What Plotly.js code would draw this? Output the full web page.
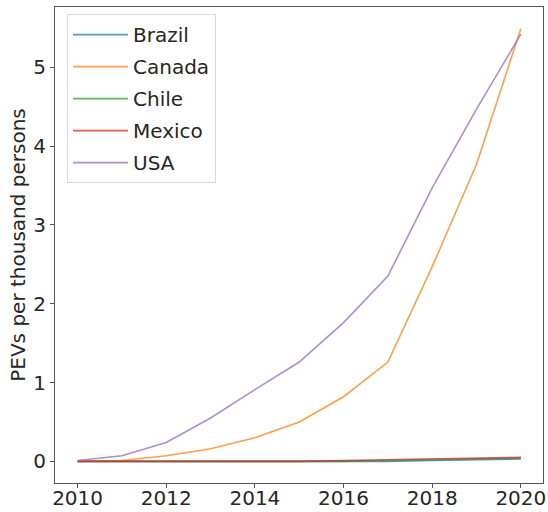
<!DOCTYPE html>
<html>
<head>
<meta charset="utf-8">
<script src="https://cdn.plot.ly/plotly-3.0.1.min.js"></script>
<style>
  html, body { margin: 0; padding: 0; background: #fff; }
  #chart { width: 548px; height: 512px; }
</style>
</head>
<body>
<div id="chart"></div>
<script>
// Plug-in electric vehicles per thousand persons, 2010-2020
const years = [2010, 2011, 2012, 2013, 2014, 2015, 2016, 2017, 2018, 2019, 2020];
const brazil = [0.00, 0.00, 0.00, 0.00, 0.00, 0.00, 0.00, 0.00, 0.01, 0.02, 0.03];
const canada = [0.00, 0.01, 0.07, 0.16, 0.30, 0.50, 0.82, 1.26, 2.47, 3.77, 5.49];
const chile  = [0.00, 0.00, 0.00, 0.00, 0.00, 0.00, 0.00, 0.01, 0.02, 0.03, 0.04];
const mexico = [0.00, 0.00, 0.00, 0.00, 0.00, 0.00, 0.01, 0.02, 0.03, 0.04, 0.05];
const usa    = [0.01, 0.07, 0.24, 0.55, 0.91, 1.26, 1.76, 2.35, 3.47, 4.47, 5.42];

const seriesNames = ['Brazil', 'Canada', 'Chile', 'Mexico', 'USA'];
const seriesValues = [brazil, canada, chile, mexico, usa];
const seriesColors = ['#1f77b4', '#ff7f0e', '#2ca02c', '#d62728', '#9467bd'];

const yTicks = [0, 1, 2, 3, 4, 5];
const xTicks = [2010, 2012, 2014, 2016, 2018, 2020];

const traces = seriesNames.map((name, i) => ({
  type: 'scatter',
  mode: 'lines',
  name: name,
  legendgroup: name,
  x: years,
  y: seriesValues[i],
  line: { color: seriesColors[i], width: 1.6 },
  opacity: 0.75
}));

const fontFamily = '"DejaVu Sans", sans-serif';
const textColor = '#262626';

const layout = {
  width: 548,
  height: 512,
  margin: { l: 55, r: 5, t: 7, b: 29 },
  paper_bgcolor: '#ffffff',
  plot_bgcolor: '#ffffff',
  font: { family: fontFamily, size: 20, color: textColor },
  showlegend: true,
  legend: {
    x: 0.0246, y: 0.985, xanchor: 'left', yanchor: 'top',
    bgcolor: '#ffffff', bordercolor: '#d8d8d8', borderwidth: 1,
    font: { family: fontFamily, size: 20, color: textColor },
    tracegroupgap: 3,
    itemwidth: 55
  },
  xaxis: {
    range: [2009.49, 2020.5],
    tickvals: xTicks,
    ticktext: xTicks.map(String),
    showgrid: false, zeroline: false,
    showline: true, mirror: true, linecolor: '#555555', linewidth: 1,
    ticks: 'outside', ticklen: 4, tickcolor: '#555555',
    ticklabelstandoff: -7,
    tickfont: { family: fontFamily, size: 20, color: textColor }
  },
  yaxis: {
    range: [-0.275, 5.765],
    tickvals: yTicks,
    ticktext: yTicks.map(String),
    showgrid: false, zeroline: false,
    showline: true, mirror: true, linecolor: '#555555', linewidth: 1,
    ticks: 'outside', ticklen: 4, tickcolor: '#555555',
    tickfont: { family: fontFamily, size: 20, color: textColor },
    title: { text: 'PEVs per thousand persons', font: { family: fontFamily, size: 20, color: textColor }, standoff: 2 }
  }
};

Plotly.newPlot('chart', traces, layout, { staticPlot: true, displayModeBar: false });
</script>
</body>
</html>
